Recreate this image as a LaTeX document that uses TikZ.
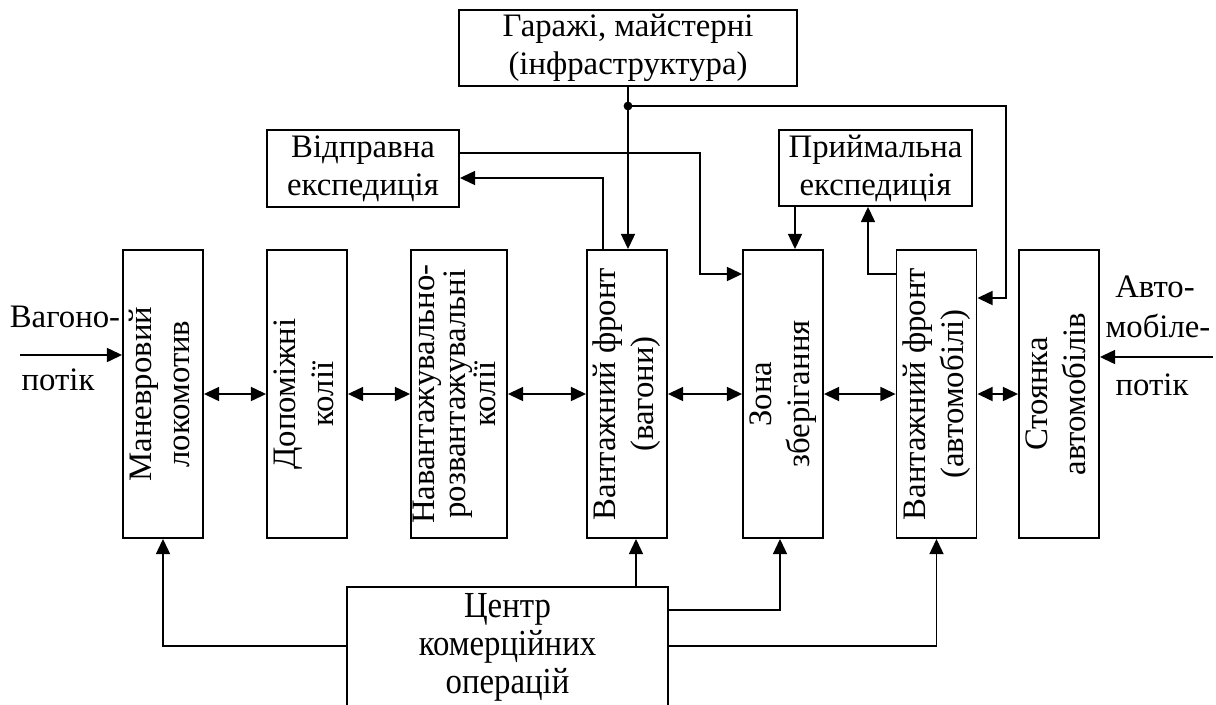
\documentclass[tikz,border=0pt]{standalone}
\usepackage{fontspec}
\setmainfont{Liberation Serif}
\usepackage{graphicx}
\usetikzlibrary{arrows.meta, math}

% text turned to run upwards inside the tall boxes
\newcommand{\vlabel}[1]{\rotatebox{90}{\begin{tabular}{@{}c@{}}#1\end{tabular}}}
% taller letters for the centre box
\newcommand{\tall}[1]{\scalebox{1}[1.12]{#1}}

\begin{document}
\begin{tikzpicture}[x=0.025cm, y=-0.025cm, line width=0.045cm,
  every node/.style={font=\fontsize{23.3pt}{27pt}\selectfont},
  box/.style={draw, inner sep=0pt, align=center},
  col/.style={box, minimum width=\bw cm, minimum height=\bh cm},
  arr/.style={-{Triangle[length=0.38cm, width=0.35cm]}},
  dbl/.style={{Triangle[length=0.38cm, width=0.35cm]}-{Triangle[length=0.38cm, width=0.35cm]}}]
\tikzmath{
\bw=2;
\bh=7.2;
\yrow=394;
}
\useasboundingbox (0,0) rectangle (1216,704);
\clip (0,0) rectangle (1216,704);

%%%%%%%%%% main row
\node[col] (manevr) at (163,\yrow) {\vlabel{Маневровий\\локомотив}};
\node[col] (dopom) at (307,\yrow) {\vlabel{Допоміжні\\колії}};
\node[col, minimum width=2.4cm] (navant) at (459,\yrow)
  {\renewcommand\arraystretch{0.77}\vlabel{Навантажувально-\\розвантажувальні\\колії}};
\node[col] (fronvag) at (627,\yrow) {\vlabel{Вантажний фронт\\(вагони)}};
\node[col] (zona) at (783,\yrow) {\vlabel{Зона\\зберігання}};
\node[col] (fronavt) at (936.5,\yrow) {\vlabel{Вантажний фронт\\(автомобілі)}};
\node[col] (stoyan) at (1059,\yrow) {\vlabel{Стоянка\\автомобілів}};

\draw[dbl] (manevr.east) -- (dopom.west);
\draw[dbl] (dopom.east) -- (navant.west);
\draw[dbl] (navant.east) -- (fronvag.west);
\draw[dbl] (fronvag.east) -- (zona.west);
\draw[dbl] (zona.east) -- (fronavt.west);
\draw[dbl] (fronavt.east) -- (stoyan.west);

%%%%%%%%%% incoming flows
\node[anchor=base] (vagtop) at (65,327) {Вагоно-};
\node[anchor=base] (vagbot) at (58,390) {потік};
\coordinate (vagin) at (20,355);
\draw[arr] (vagin) -- (manevr.west |- vagin);

\node[anchor=base] (avttop) at (1155,297) {Авто-};
\node[anchor=base] (avtmid) at (1158,337) {мобіле-};
\node[anchor=base] (avtbot) at (1152,395) {потік};
\coordinate (avtin) at (1213,357);
\draw[arr] (avtin) -- (stoyan.east |- avtin);

%%%%%%%%%% top
\node[box, minimum width=8.45cm, minimum height=1.9cm] (garazh) at (628,48)
  {Гаражі, майстерні\\(інфраструктура)};
\node[box, minimum width=4.8cm, minimum height=1.925cm] (vidpr) at (363,168.5)
  {Відправна\\експедиція};
\node[box, minimum width=4.825cm, minimum height=1.9cm] (pryim) at (875.5,168)
  {Приймальна\\експедиція};

\coordinate (jn) at (garazh.south |- 0,106);
\draw[arr] (garazh.south) -- (garazh.south |- fronvag.north);
\fill (jn) circle (0.11cm);
\draw[arr] (jn) -| (1006,298) -- (fronavt.east |- 0,298);

\draw[arr] (vidpr.east |- 0,153) -| (700,274) -- (zona.west |- 0,274);
\draw[arr] (fronvag.north -| 603,0) |- (vidpr.east |- 0,178);
\draw[arr] (pryim.south -| 795,0) -- (zona.north -| 795,0);
\draw[arr] (fronavt.west |- 0,274) -| (pryim.south -| 868,0);

%%%%%%%%%% bottom
\node[box, minimum width=8.025cm, minimum height=3cm] (tsentr) at (507.5,647)
  {\tall{Центр}\\\tall{комерційних}\\\tall{операцій}};

\draw[arr] (tsentr.north -| 636,0) -- (fronvag.south -| 636,0);
\draw[arr] (tsentr.east |- 0,610) -| (zona.south -| 780,0);
\draw[arr] (tsentr.east |- 0,646) -| (fronavt.south);
\draw[arr] (tsentr.west |- 0,646) -| (manevr.south);
\end{tikzpicture}
\end{document}
